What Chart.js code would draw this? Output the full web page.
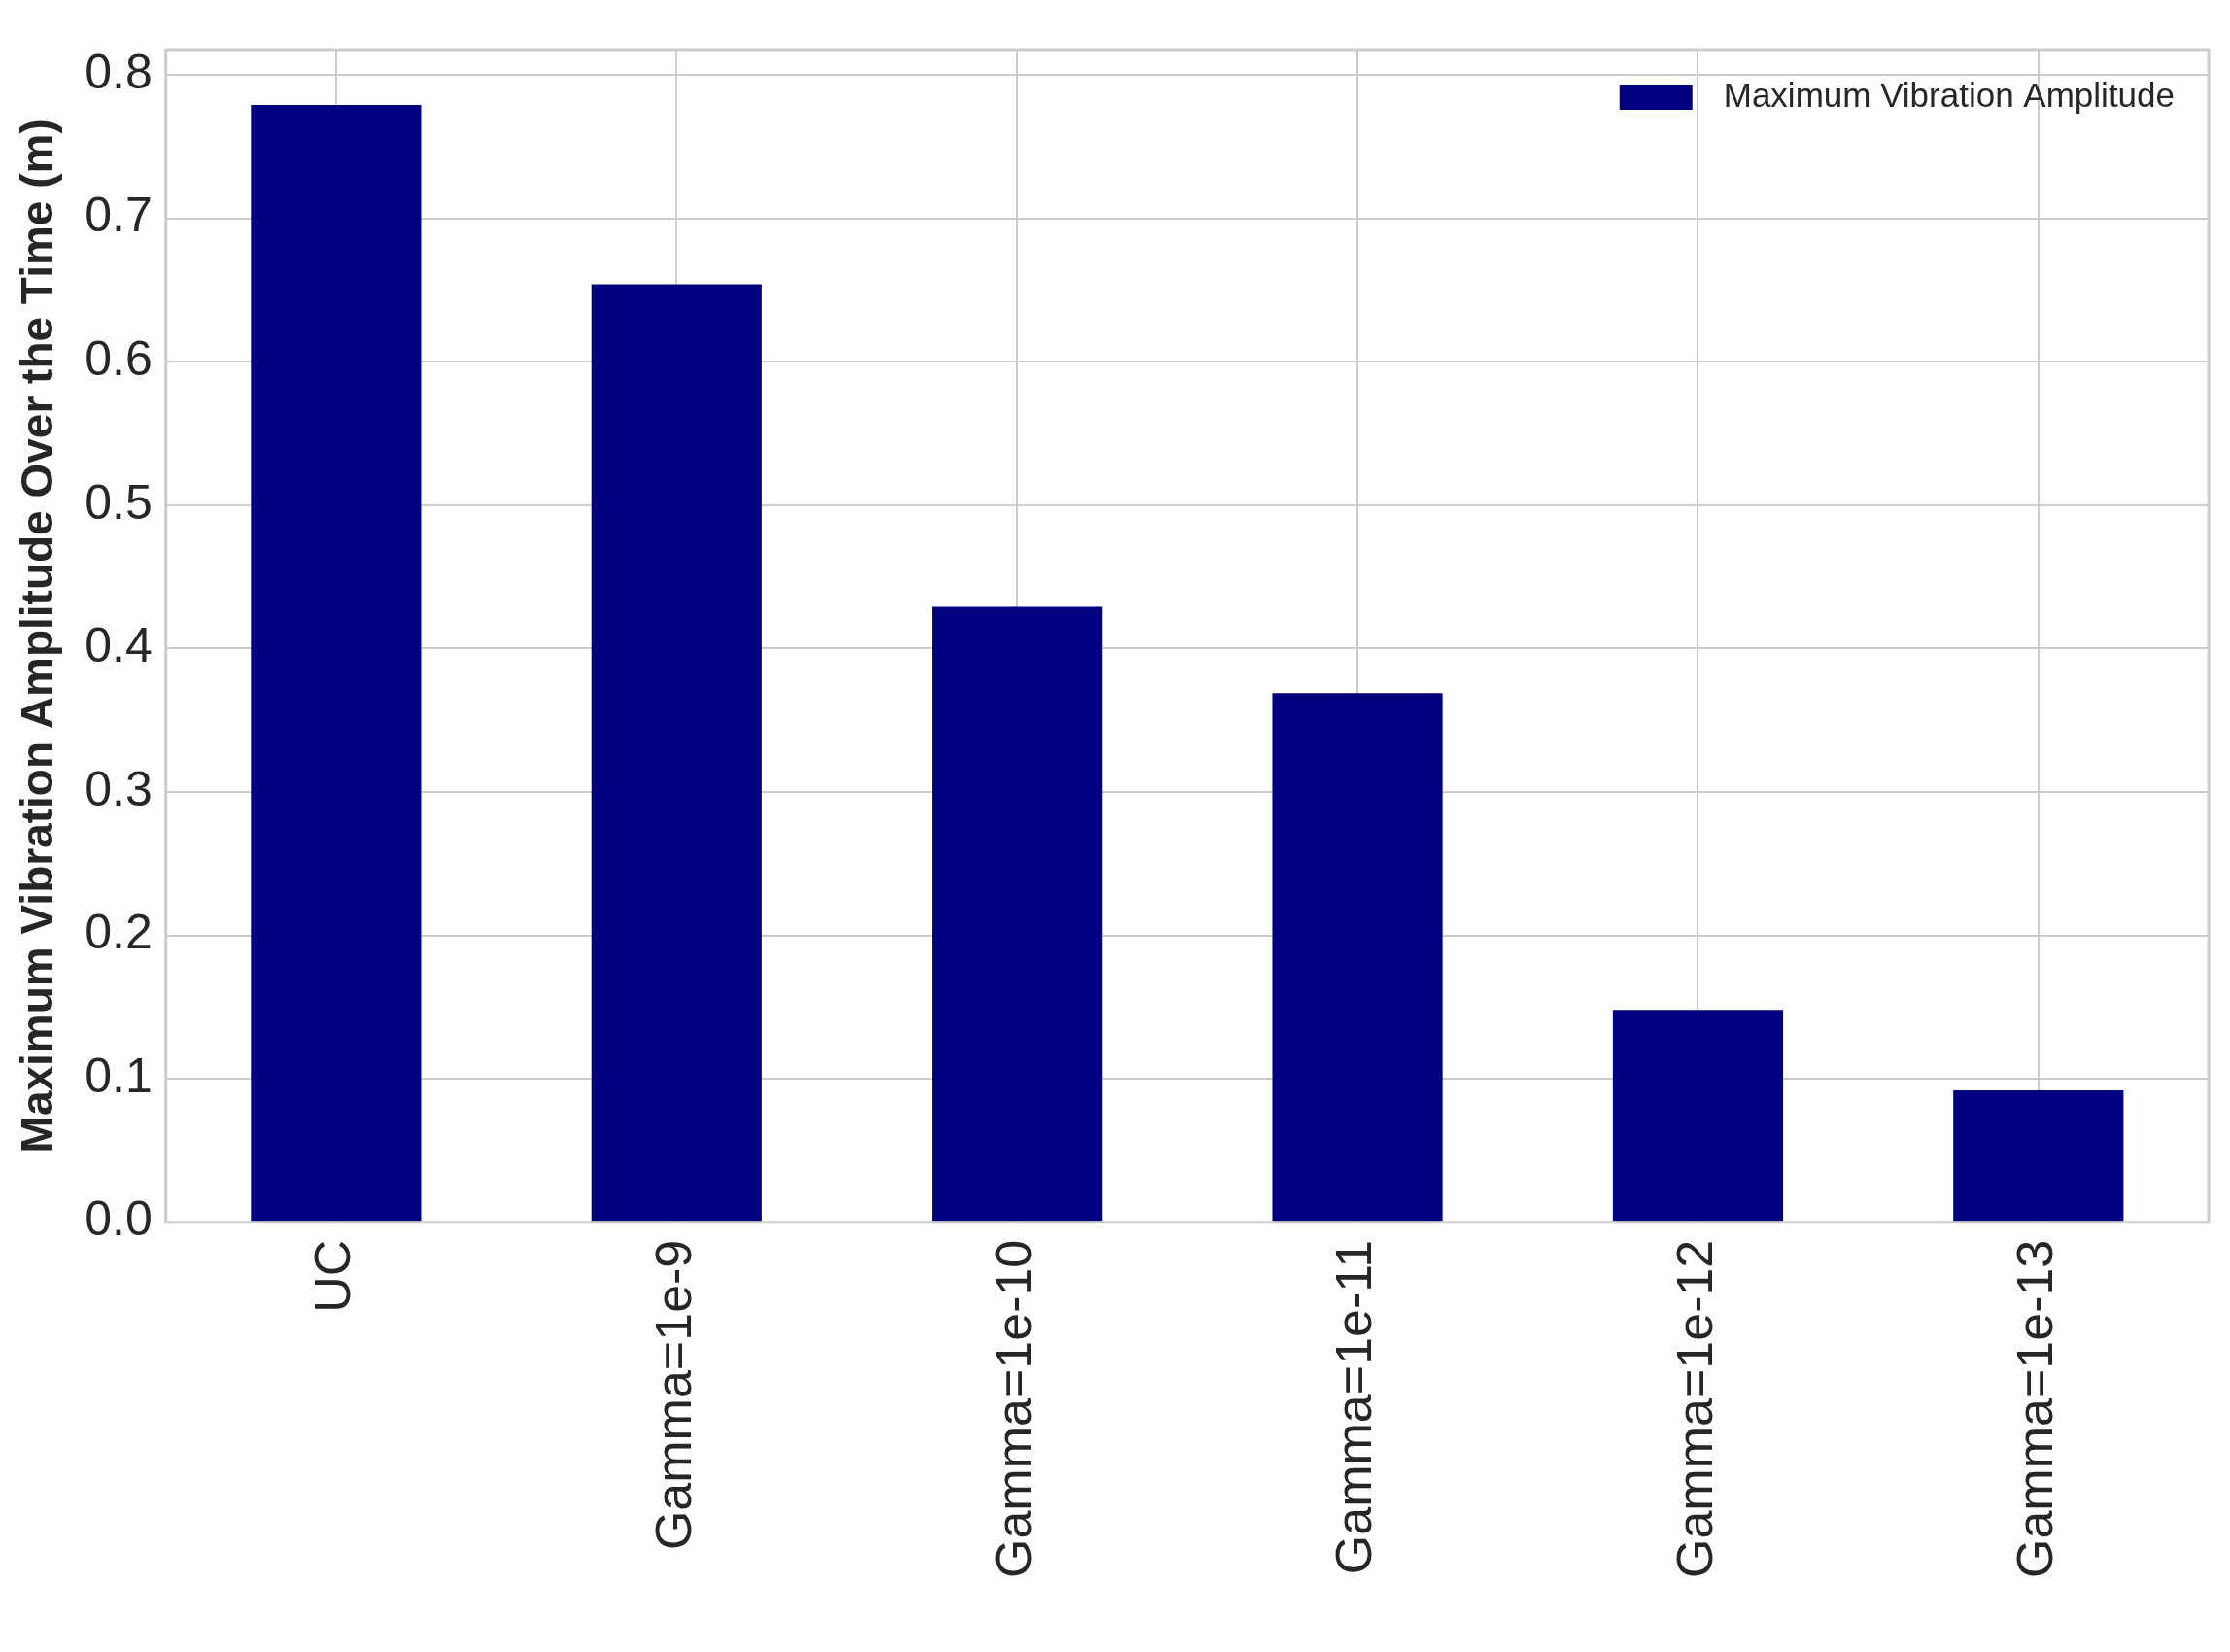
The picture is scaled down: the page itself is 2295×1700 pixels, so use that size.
<!DOCTYPE html>
<html>
<head>
<meta charset="utf-8">
<script src="https://cdn.jsdelivr.net/npm/chart.js@4"></script>
<style>
  html, body { margin: 0; padding: 0; background: #fff; }
  #wrap { width: 2295px; height: 1700px; }
</style>
</head>
<body>
<div id="wrap"><canvas id="myChart" width="2295" height="1700"></canvas></div>
<script>
const categories = ['UC', 'Gamma=1e-9', 'Gamma=1e-10', 'Gamma=1e-11', 'Gamma=1e-12', 'Gamma=1e-13'];
const amplitudes = [0.779, 0.654, 0.429, 0.369, 0.148, 0.092];
const yTicks = [0.0, 0.1, 0.2, 0.3, 0.4, 0.5, 0.6, 0.7, 0.8];

const gridColor = '#cccccc';
const textColor = '#262626';

// frame around the plot area + legend drawn inside top-right
const framePlugin = {
    id: 'frame',
    afterDraw(chart) {
        const { ctx, chartArea: a } = chart;
        ctx.save();
        ctx.strokeStyle = gridColor;
        ctx.lineWidth = 3;
        ctx.strokeRect(a.left, a.top, a.right - a.left, a.bottom - a.top);
        const ds = chart.data.datasets[0];
        ctx.font = '35px "Liberation Sans", Arial, sans-serif';
        ctx.textBaseline = 'middle';
        ctx.textAlign = 'right';
        const ty = a.top + 49;
        const tx = a.right - 35;
        const w = ctx.measureText(ds.label).width;
        ctx.fillStyle = textColor;
        ctx.fillText(ds.label, tx, ty);
        ctx.fillStyle = ds.backgroundColor;
        ctx.fillRect(tx - w - 32 - 75, ty - 13, 75, 26);
        ctx.restore();
    }
};

const config = {
    type: 'bar',
    data: {
        labels: categories,
        datasets: [{
            label: 'Maximum Vibration Amplitude',
            data: amplitudes,
            backgroundColor: '#000080',
            barPercentage: 0.5,
            categoryPercentage: 1.0
        }]
    },
    options: {
        responsive: false,
        animation: false,
        devicePixelRatio: 1,
        layout: { padding: { top: 51, right: 22, left: 14, bottom: 58 } },
        plugins: {
            legend: { display: false },
            tooltip: { enabled: false }
        },
        scales: {
            x: {
                grid: { color: gridColor, lineWidth: 2, offset: false, drawTicks: false },
                border: { display: false },
                ticks: {
                    color: textColor,
                    font: { family: '"Liberation Sans", Arial, sans-serif', size: 52 },
                    maxRotation: 90, minRotation: 90,
                    padding: 18
                }
            },
            y: {
                min: 0,
                max: 0.8177,
                afterBuildTicks(axis) { axis.ticks = yTicks.map(v => ({ value: v })); },
                grid: { color: gridColor, lineWidth: 2, drawTicks: false },
                border: { display: false },
                ticks: {
                    color: textColor,
                    font: { family: '"Liberation Sans", Arial, sans-serif', size: 50 },
                    padding: 14,
                    callback: v => v.toFixed(1)
                },
                title: {
                    display: true,
                    text: 'Maximum Vibration Amplitude Over the Time (m)',
                    color: textColor,
                    font: { family: '"Liberation Sans", Arial, sans-serif', size: 46, weight: 'bold' },
                    padding: { top: 0, bottom: 4 }
                }
            }
        }
    },
    plugins: [framePlugin]
};

const myChart = new Chart(document.getElementById('myChart'), config);
</script>
</body>
</html>
